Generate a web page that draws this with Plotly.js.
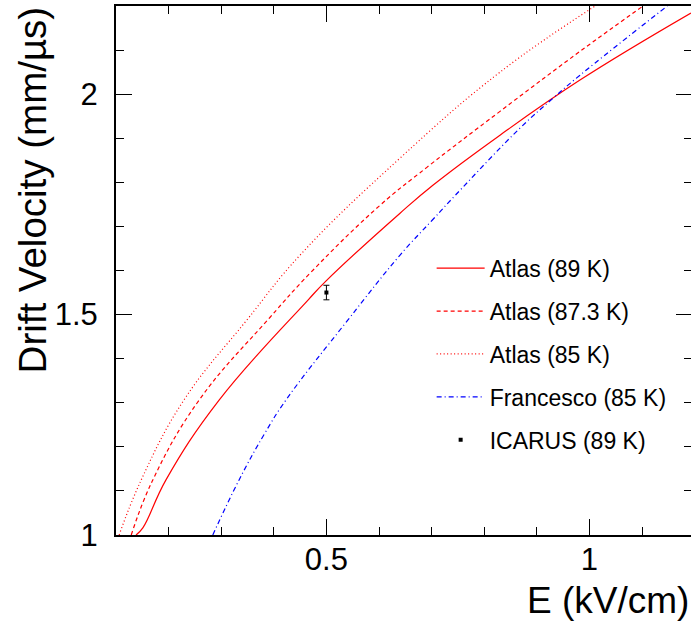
<!DOCTYPE html>
<html>
<head>
<meta charset="utf-8">
<script src="https://cdn.plot.ly/plotly-3.0.1.min.js"></script>
<style>
html,body{margin:0;padding:0;overflow:hidden;background:#fff;}
#chart{width:692px;height:625px;}
</style>
</head>
<body>
<div id="chart"></div>
<script>
// Atlas (89 K) - solid red
var atlas89_x = [0.138, 0.151, 0.195, 0.296, 0.465, 0.499, 0.640, 0.703, 0.830, 0.982, 1.193];
var atlas89_y = [1.000, 1.016, 1.125, 1.306, 1.533, 1.576, 1.730, 1.794, 1.907, 2.032, 2.184];
// Atlas (87.3 K) - dashed red
var atlas87_x = [0.129, 0.170, 0.258, 0.393, 0.469, 0.602, 0.691, 0.830, 0.982, 1.102];
var atlas87_y = [1.000, 1.125, 1.306, 1.494, 1.594, 1.748, 1.834, 1.961, 2.097, 2.200];
// Atlas (85 K) - dotted red
var atlas85_x = [0.106, 0.148, 0.229, 0.349, 0.450, 0.640, 0.830, 1.011];
var atlas85_y = [1.000, 1.125, 1.306, 1.488, 1.635, 1.855, 2.050, 2.200];
// Francesco (85 K) - blue dash-dot
var fr_x = [0.284, 0.334, 0.383, 0.423, 0.541, 0.640, 0.701, 0.754, 0.868, 0.931, 0.982, 1.148];
var fr_y = [1.000, 1.125, 1.231, 1.306, 1.488, 1.635, 1.714, 1.782, 1.923, 1.991, 2.043, 2.200];
// ICARUS (89 K) point
var icarus_x = [0.5];
var icarus_y = [1.550];
var icarus_err = [0.0165];

var names = ["Atlas (89 K)", "Atlas (87.3 K)", "Atlas (85 K)", "Francesco (85 K)", "ICARUS (89 K)"];

var FONT = "Liberation Sans, Arial, Helvetica, sans-serif";

var traces = [
  {x: atlas89_x, y: atlas89_y, name: names[0], mode: "lines", legendgroup: "a",
   line: {color: "#ff0000", width: 1.2, dash: "solid", shape: "spline", smoothing: 1.2}},
  {x: atlas87_x, y: atlas87_y, name: names[1], mode: "lines", legendgroup: "b",
   line: {color: "#ff0000", width: 1.2, dash: "4px,3px", shape: "spline", smoothing: 1.2}},
  {x: atlas85_x, y: atlas85_y, name: names[2], mode: "lines", legendgroup: "c",
   line: {color: "#ff0000", width: 1.2, dash: "1px,2.5px", shape: "spline", smoothing: 1.2}},
  {x: fr_x, y: fr_y, name: names[3], mode: "lines", legendgroup: "d",
   line: {color: "#0000ff", width: 1.2, dash: "5px,3px,1px,3px", shape: "spline", smoothing: 1.2}},
  {x: icarus_x, y: icarus_y, name: names[4], mode: "markers", legendgroup: "e",
   marker: {symbol: "square", size: 4, color: "#000000"},
   error_y: {type: "data", array: icarus_err, visible: true, color: "#000000", thickness: 1, width: 3}}
];

var axisCommon = {
  showgrid: false, zeroline: false, showline: true, linecolor: "#000", linewidth: 2,
  mirror: "allticks", ticks: "inside", tickcolor: "#000", tickwidth: 1, ticklen: 16,
  tickfont: {family: FONT, size: 31, color: "#000"}
};

var layout = {
  width: 692, height: 625,
  margin: {l: 116, r: 0, t: 6, b: 90, pad: 0},
  paper_bgcolor: "#fff", plot_bgcolor: "#fff",
  showlegend: true,
  legend: {
    x: 0.548, xanchor: "left", y: 0.545, yanchor: "top",
    font: {family: FONT, size: 23, color: "#000"},
    bgcolor: "rgba(0,0,0,0)", borderwidth: 0,
    traceorder: "grouped", tracegroupgap: 10, itemwidth: 48
  },
  xaxis: Object.assign({}, axisCommon, {
    range: [0.1, 1.195], dtick: 0.5, tick0: 0, ticklabelstandoff: -4,
    minor: {dtick: 0.1, ticks: "inside", ticklen: 8, tickcolor: "#000", tickwidth: 1}
  }),
  yaxis: Object.assign({}, axisCommon, {
    range: [1, 2.2], dtick: 0.5, tick0: 0, ticklabelstandoff: 10,
    minor: {dtick: 0.1, ticks: "inside", ticklen: 8, tickcolor: "#000", tickwidth: 1}
  }),
  annotations: [
    {text: "E (kV/cm)", xref: "paper", yref: "paper", x: 0.998, y: -0.123,
     xanchor: "right", yanchor: "middle", showarrow: false,
     font: {family: FONT, size: 37, color: "#000"}},
    {text: "Drift Velocity (mm/\u00b5s)", xref: "paper", yref: "paper", x: -0.145, y: 1.003,
     xanchor: "center", yanchor: "top", textangle: -90, showarrow: false,
     font: {family: FONT, size: 38.5, color: "#000"}}
  ]
};

Plotly.newPlot("chart", traces, layout, {displayModeBar: false, staticPlot: true});
</script>
</body>
</html>
